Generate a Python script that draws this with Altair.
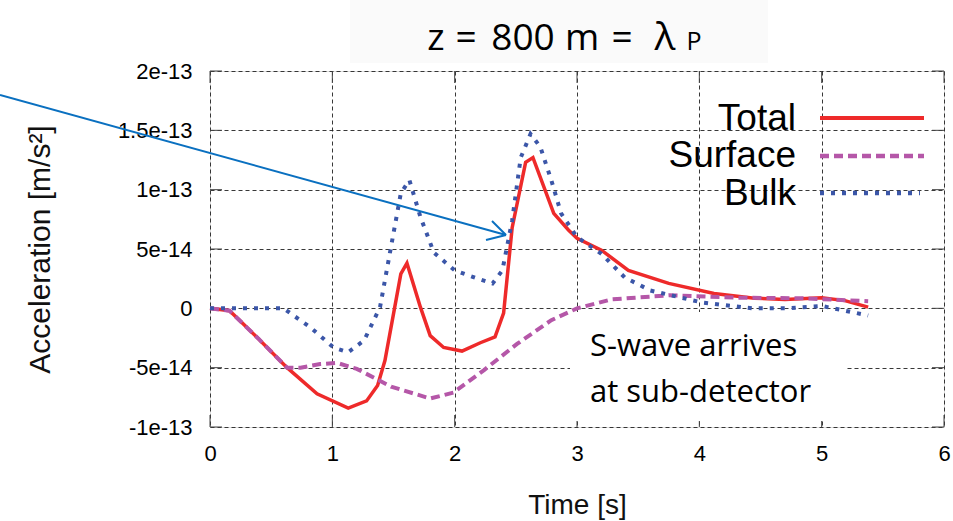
import altair as alt
import pandas as pd

# ---------------- data (acceleration in units of 1e-14 m/s^2) ----------------
series_names = ["Total", "Surface", "Bulk"]
series_colors = ["#ee2a2a", "#b557a8", "#3b56a8"]

total_t = [0, 0.16, 0.3, 0.4, 0.63, 0.875, 1.13, 1.28, 1.37, 1.43, 1.56, 1.61, 1.72, 1.80, 1.91,
           2.06, 2.21, 2.33, 2.40, 2.47, 2.58, 2.64, 2.81, 2.93, 3.0, 3.2, 3.42, 3.75, 4.12,
           4.45, 4.70, 5.0, 5.19, 5.38]
total_a = [0, -0.2, -1.6, -2.6, -5.0, -7.2, -8.4, -7.8, -6.5, -4.4, 2.9, 3.8, 0.1, -2.3, -3.3,
           -3.6, -2.9, -2.4, -0.4, 6.8, 12.3, 12.7, 8.0, 6.6, 5.9, 4.9, 3.2, 2.1, 1.25,
           0.85, 0.75, 0.9, 0.65, 0.1]

surface_t = [0, 0.16, 0.3, 0.4, 0.63, 0.74, 0.9, 1.04, 1.2, 1.48, 1.80, 1.99, 2.24, 2.51,
             2.79, 3.0, 3.28, 3.75, 4.29, 4.84, 5.38]
surface_a = [0, -0.2, -1.6, -2.6, -5.0, -5.0, -4.7, -4.6, -5.1, -6.6, -7.6, -7.1, -5.2, -3.0,
             -1.0, 0, 0.75, 1.1, 0.9, 0.85, 0.6]

bulk_t = [0, 0.6, 0.82, 1.01, 1.13, 1.26, 1.39, 1.48, 1.56, 1.63, 1.72, 1.83, 2.0, 2.19, 2.31,
          2.39, 2.47, 2.54, 2.62, 2.70, 2.79, 2.87, 3.0, 3.2, 3.39, 3.6, 4.02, 4.43, 4.70,
          5.0, 5.19, 5.38]
bulk_a = [0, 0, -1.6, -3.3, -3.7, -2.7, 0.1, 5.2, 9.7, 10.8, 7.7, 4.7, 3.2, 2.5, 2.1,
          3.2, 7.4, 12.7, 14.7, 13.6, 10.8, 8.0, 6.0, 4.6, 2.6, 1.5, 0.5, 0, 0,
          0.2, -0.2, -0.6]

x_ticks = [0, 1, 2, 3, 4, 5, 6]
y_ticks = [-1e-13, -5e-14, 0, 5e-14, 1e-13, 1.5e-13, 2e-13]
UNIT = 1e-14

rows = []
for name, ts, vs in [("Total", total_t, total_a), ("Surface", surface_t, surface_a), ("Bulk", bulk_t, bulk_a)]:
    for t, v in zip(ts, vs):
        rows.append({"series": name, "t": t, "a": v * UNIT})
df = pd.DataFrame(rows)

W, H = 734, 356
AXFONT = "Liberation Sans"

xscale = alt.Scale(domain=[0, 6], nice=False, zero=False)
yscale = alt.Scale(domain=[-1e-13, 2e-13], nice=False, zero=False)

xenc = alt.X("t:Q", scale=xscale,
             axis=alt.Axis(values=x_ticks, title="Time [s]", grid=True, gridDash=[4, 3],
                           gridColor="#222", gridWidth=1, gridOpacity=0.9, ticks=False, domain=False,
                           labelFlush=False,
                           labelFont=AXFONT, labelFontSize=22, labelColor="black", labelPadding=16,
                           titleFont=AXFONT, titleFontSize=28, titleFontWeight="normal",
                           titleColor="#111", titleY=86, titleBaseline="alphabetic"))
yenc = alt.Y("a:Q", scale=yscale,
             axis=alt.Axis(values=y_ticks, title="Acceleration [m/s²]", grid=True, gridDash=[4, 3],
                           gridColor="#222", gridWidth=1, gridOpacity=0.9, ticks=False, domain=False,
                           labelFlush=False,
                           labelExpr="datum.value == 0 ? '0' : (datum.value < 0 ? '-' : '') + format(abs(datum.value), '~e')",
                           labelFont=AXFONT, labelFontSize=22, labelColor="black", labelPadding=18,
                           titleFont=AXFONT, titleFontSize=30, titleFontWeight="normal",
                           titleColor="#111", titleX=-161, titleY=H / 2, titleBaseline="alphabetic"))

one = pd.DataFrame({"t": [0]})


def rule(x1, x2, y1, y2, color, width, dash=None):
    kw = dict(color=color, strokeWidth=width)
    if dash:
        kw["strokeDash"] = dash
    return alt.Chart(one).mark_rule(**kw).encode(
        x=alt.value(x1), x2=alt.value(x2), y=alt.value(y1), y2=alt.value(y2))


def rect(x1, x2, y1, y2, fill):
    return alt.Chart(one).mark_rect(color=fill).encode(
        x=alt.value(x1), x2=alt.value(x2), y=alt.value(y1), y2=alt.value(y2))


def txt(s, x, y, size, font, align="left", color="black"):
    return alt.Chart(one).mark_text(font=font, fontSize=size, align=align, baseline="alphabetic",
                                    color=color).encode(x=alt.value(x), y=alt.value(y), text=alt.value(s))


styles = {
    "Total": dict(color=series_colors[0], strokeWidth=3.5),
    "Surface": dict(color=series_colors[1], strokeWidth=4, strokeDash=[9, 5]),
    "Bulk": dict(color=series_colors[2], strokeWidth=4, strokeDash=[4, 7]),
}

line_layers = []
for name in series_names:
    line_layers.append(
        alt.Chart(df).transform_filter(alt.datum.series == name)
        .mark_line(**styles[name]).encode(x=xenc, y=yenc)
    )

# inward tick marks (mirror on all four sides)
tick_y_df = pd.DataFrame({"a": y_ticks})
tick_x_df = pd.DataFrame({"t": x_ticks})
TL = 12
tick_layers = [
    alt.Chart(tick_y_df).mark_rule(color="#444", strokeWidth=1).encode(
        y=yenc, x=alt.value(0), x2=alt.value(TL)),
    alt.Chart(tick_y_df).mark_rule(color="#444", strokeWidth=1).encode(
        y=yenc, x=alt.value(W - TL), x2=alt.value(W)),
    alt.Chart(tick_x_df).mark_rule(color="#444", strokeWidth=1).encode(
        x=xenc, y=alt.value(H - TL), y2=alt.value(H)),
    alt.Chart(tick_x_df).mark_rule(color="#444", strokeWidth=1).encode(
        x=xenc, y=alt.value(0), y2=alt.value(TL)),
]

decor_back = [rect(140, 558, -71, -8, "#fafafa")]
box = [rect(360, 635, 241, 350, "white")]

legend_layers = [
    txt("Total", 586, 59, 37, AXFONT, align="right"),
    txt("Surface", 586, 96, 37, AXFONT, align="right"),
    txt("Bulk", 586, 134, 37, AXFONT, align="right"),
    rule(610, 714, 47, 47, series_colors[0], 4),
    rule(610, 714, 85, 85, series_colors[1], 4.5, [9, 5]),
    rule(610, 710, 122, 122, series_colors[2], 4.5, [4, 7]),
]

TF = "Open Sans"
# title pieces: (text, centre x in plot coordinates)
title_pieces = [("z", 226), ("=", 256), ("800", 313), ("m", 372), ("=", 412)]
texts = [txt(s, x, -21, 37, TF, align="center") for s, x in title_pieces] + [
    txt("λ", 455, -21, 39, TF, align="center"),
    txt("P", 484, -21, 25, TF, align="center"),
    txt("S-wave arrives", 380, 285, 31, TF),
    txt("at sub-detector", 380, 331, 31, TF),
]

ARROW = "#0a70c0"
arrow = [
    rule(-210, 296, 24, 164, ARROW, 2),
    rule(282, 296, 150, 164, ARROW, 2),
    rule(276, 296, 169, 164, ARROW, 2),
]

chart = alt.layer(
    *decor_back, *tick_layers, *box, *line_layers, *legend_layers, *texts, *arrow
).properties(
    width=W, height=H,
    autosize=alt.AutoSizeParams(type="none"),
    padding={"left": 210, "top": 71, "right": 9, "bottom": 94},
).configure_view(stroke="#555", strokeWidth=1.5).configure(background="white")

chart.save("out.html", embed_options={"renderer": "svg", "actions": False})
